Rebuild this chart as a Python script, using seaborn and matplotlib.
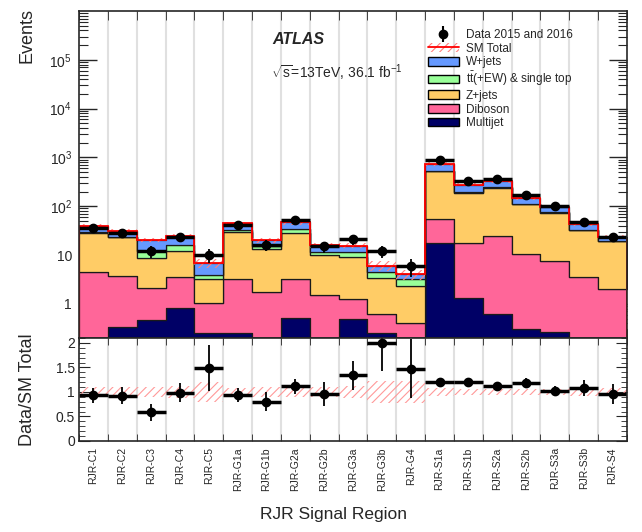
import numpy as np
import pandas as pd
import matplotlib
matplotlib.use("Agg")
import matplotlib.pyplot as plt
import seaborn as sns
from matplotlib.ticker import FixedLocator, LogLocator, FuncFormatter, MultipleLocator, NullFormatter
from matplotlib.lines import Line2D
from matplotlib.patches import Patch

# signal regions
regions = ['RJR-C1', 'RJR-C2', 'RJR-C3', 'RJR-C4', 'RJR-C5',
           'RJR-G1a', 'RJR-G1b', 'RJR-G2a', 'RJR-G2b', 'RJR-G3a', 'RJR-G3b', 'RJR-G4',
           'RJR-S1a', 'RJR-S1b', 'RJR-S2a', 'RJR-S2b', 'RJR-S3a', 'RJR-S3b', 'RJR-S4']

# observed events
data = [36, 28, 12, 24, 10, 42, 16, 52, 15, 21, 12, 6, 886, 330, 365, 173, 101, 47, 23]

# background yields
wjets = [9.1, 6.7, 8.4, 8.3, 2.8, 11.9, 4.9, 13.0, 4.2, 4.2, 1.5, 0.9, 203, 82, 81, 34, 22.6, 10.1, 4.7]
ttbar = [0.8, 0.6, 3.4, 3.9, 0.76, 3.4, 1.5, 5.2, 1.3, 2.4, 1.2, 0.85, 10, 3, 4, 2, 1.5, 0.6, 0.3]
zjets = [24.3, 19.5, 6.6, 8.6, 2.1, 26.0, 11.8, 25.2, 8.7, 7.8, 2.7, 1.9, 467, 172, 216, 99, 67, 29.1, 17.0]
diboson = [4.5, 3.36, 1.61, 2.64, 0.81, 3.05, 1.73, 2.79, 1.52, 0.79, 0.37, 0.41, 37.2, 16.5, 23.7, 10.4, 7.2, 3.6, 2.0]
multijet = [0, 0.34, 0.47, 0.84, 0.25, 0.25, 0, 0.51, 0, 0.49, 0.25, 0, 17.5, 1.3, 0.63, 0.31, 0.27, 0, 0]

# relative SM uncertainty
sm_unc = [0.10, 0.10, 0.11, 0.12, 0.21, 0.09, 0.10, 0.11, 0.10, 0.12, 0.23, 0.23,
          0.08, 0.07, 0.07, 0.07, 0.07, 0.08, 0.08]

procs = ['W+jets', 'ttbar', 'Z+jets', 'Diboson', 'Multijet']
colors = ['#6699ff', '#99ff99', '#ffcc66', '#ff6699', '#000066']
labels = ['W+jets', r'$\mathrm{t\bar{t}}$(+EW) & single top', 'Z+jets', 'Diboson', 'Multijet']

sns.set_style("ticks")
plt.rcParams['font.family'] = ['Liberation Sans', 'DejaVu Sans']
plt.rcParams['mathtext.fontset'] = 'custom'
plt.rcParams['mathtext.rm'] = 'Liberation Sans'
plt.rcParams['mathtext.it'] = 'Liberation Sans:italic'
plt.rcParams['mathtext.bf'] = 'Liberation Sans:bold'
plt.rcParams['hatch.linewidth'] = 0.8

n = len(regions)
idx = np.arange(n)
edges = np.arange(n + 1) - 0.5
df = pd.DataFrame({
    'region': np.tile(idx, len(procs)),
    'process': np.repeat(procs, n),
    'yield': np.concatenate([wjets, ttbar, zjets, diboson, multijet]),
})

total = np.array(wjets) + np.array(ttbar) + np.array(zjets) + np.array(diboson) + np.array(multijet)
data = np.array(data, dtype=float)
unc = np.array(sm_unc)

fig = plt.figure(figsize=(6.42, 5.32), dpi=100)
ax = fig.add_axes([79 / 642, 1 - 338 / 532, 548 / 642, 327 / 532])
rax = fig.add_axes([79 / 642, 1 - 441 / 532, 548 / 642, 103 / 532])

for e in edges[1:-1]:
    ax.axvline(e, color='#e0e0e0', lw=1.5, zorder=0.2)
    rax.axvline(e, color='#e0e0e0', lw=1.5, zorder=0.2)

sns.histplot(data=df, x='region', weights='yield', hue='process', hue_order=procs,
             multiple='stack', discrete=True, element='step', palette=colors, alpha=1,
             linewidth=0.9, edgecolor='#1a1a1a', legend=False, ax=ax)

ax.set_yscale('log')
# SM total with hatched uncertainty
ax.stairs(total * (1 + unc), edges, baseline=total * (1 - unc), fill=True,
          facecolor='none', edgecolor='#ff8080', hatch='////', lw=0, zorder=3)
ax.stairs(total, edges, color='red', lw=1.3, zorder=3.5)

ax.errorbar(idx, data, xerr=0.5, fmt='none', ecolor='k', elinewidth=2.5, capsize=0, zorder=4)
ax.errorbar(idx, data, yerr=np.sqrt(data), fmt='o', color='k', ms=6, elinewidth=1.3,
            capsize=0, zorder=5)

ax.set_xlim(-0.5, n - 0.5)
ax.set_ylim(0.2, 1e6)
ax.yaxis.set_major_locator(FixedLocator([1, 10, 1e2, 1e3, 1e4, 1e5]))
ax.yaxis.set_minor_locator(LogLocator(base=10, subs=np.arange(2, 10), numticks=20))
ax.yaxis.set_minor_formatter(NullFormatter())


def logfmt(v, pos):
    if v == 1:
        return '1'
    if v == 10:
        return '10'
    return r'$10^{%d}$' % int(round(np.log10(v)))


ax.yaxis.set_major_formatter(FuncFormatter(logfmt))
ax.set_xticks(idx)
ax.set_xticks(edges, minor=True)
ax.tick_params(axis='x', which='major', length=0, labelbottom=False)
ax.tick_params(axis='x', which='minor', direction='in', length=6.5, top=True, bottom=True)
ax.tick_params(axis='y', which='major', direction='in', length=13, width=1, right=True,
               labelsize=10, pad=5)
ax.tick_params(axis='y', which='minor', direction='in', length=6.5, width=0.8, right=True)
ax.set_xlabel('')
ax.set_ylabel('Events', fontsize=13, loc='top')
ax.yaxis.set_label_coords(-0.08, 1.01)

# ratio panel
ratio = data / total
rerr = np.sqrt(data) / total
rax.stairs(1 + unc, edges, baseline=1 - unc, fill=True, facecolor='none',
           edgecolor='#ff9999', hatch='////', lw=0, zorder=2)
rax.errorbar(idx, ratio, xerr=0.5, fmt='none', ecolor='k', elinewidth=2.5, capsize=0, zorder=4)
rax.errorbar(idx, ratio, yerr=rerr, fmt='o', color='k', ms=6, elinewidth=1.3,
             capsize=0, zorder=5)
rax.set_xlim(-0.5, n - 0.5)
rax.set_ylim(0, 2.1)
rax.set_yticks([0, 0.5, 1, 1.5, 2])
rax.yaxis.set_major_formatter(FuncFormatter(lambda v, p: '%g' % v))
rax.yaxis.set_minor_locator(MultipleLocator(0.1))
rax.set_xticks(idx)
rax.set_xticklabels(regions, rotation=90, fontsize=7.5)
rax.set_xticks(edges, minor=True)
rax.tick_params(axis='x', which='major', length=0, pad=4.5)
rax.tick_params(axis='x', which='minor', direction='in', length=5, top=True, bottom=True)
rax.tick_params(axis='y', which='major', direction='in', length=8, right=True,
                labelsize=10, pad=3)
rax.tick_params(axis='y', which='minor', direction='in', length=4, right=True)
rax.set_ylabel('Data/SM Total', fontsize=13)
rax.yaxis.set_label_coords(-0.078, 0.5)

for a in (ax, rax):
    for s in a.spines.values():
        s.set_linewidth(1.2)
        s.set_zorder(6)

fig.text(333 / 642, 1 - 514 / 532, 'RJR Signal Region', fontsize=12.5, ha='center', va='center')
fig.text(272 / 642, 1 - 39 / 532, 'ATLAS', fontsize=11.5, fontweight='bold', fontstyle='italic',
         va='center')
fig.text(271 / 642, 1 - 73 / 532, r'$\sqrt{\mathrm{s}}$=13TeV, 36.1 fb$^{-1}$', fontsize=10,
         va='center')

handles = [(Line2D([], [], marker='|', color='k', ls='none', ms=11, mew=1.5),
            Line2D([], [], marker='o', color='k', ls='none', ms=6)),
           (Patch(facecolor='none', edgecolor='#ff8080', hatch='////', lw=0),
            Line2D([], [], color='red', lw=1.3))]
handles += [Patch(facecolor=c, edgecolor='k', lw=1.0) for c in colors]
leg_labels = ['Data 2015 and 2016', 'SM Total'] + labels
ax.legend(handles, leg_labels, loc='upper left', bbox_to_anchor=(428 / 642, 1 - 29 / 532),
          bbox_transform=fig.transFigure, frameon=False, fontsize=8.5, handlelength=2.6,
          handleheight=0.75, labelspacing=0.14, handletextpad=0.6, borderpad=0,
          borderaxespad=0)

fig.savefig('out.png', dpi=100)
